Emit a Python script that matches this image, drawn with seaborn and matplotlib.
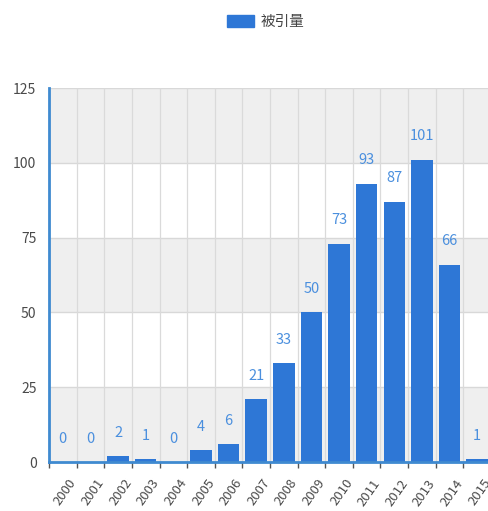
import matplotlib
matplotlib.use('Agg')
import matplotlib.pyplot as plt
import matplotlib.transforms as mtransforms
from matplotlib.patches import Patch
import seaborn as sns
import pandas as pd
import numpy as np

years = ['2000', '2001', '2002', '2003', '2004', '2005', '2006', '2007',
         '2008', '2009', '2010', '2011', '2012', '2013', '2014', '2015']
citations = [0, 0, 2, 1, 0, 4, 6, 21, 33, 50, 73, 93, 87, 101, 66, 1]
y_ticks = [0, 25, 50, 75, 100, 125]
series_name = '被引量'

bar_color = '#2e77d6'
label_color = '#4a8fde'
axis_color = '#3f8ad0'

sns.set_theme(style='white')
plt.rcParams['font.family'] = ['Noto Sans CJK SC', 'DejaVu Sans']

df = pd.DataFrame({'year': years, 'count': citations})

fig = plt.figure(figsize=(4.88, 5.11), dpi=100)
ax = fig.add_axes([49 / 488, 1 - 462 / 511, 442 / 488, (462 - 88) / 511])

# alternating horizontal bands + grid lines
for i in range(len(y_ticks) - 1):
    c = '#efefef' if i % 2 == 0 else 'white'
    ax.axhspan(y_ticks[i], y_ticks[i + 1], color=c, zorder=0, lw=0)
for t in y_ticks[1:]:
    ax.axhline(t, color='#d8d8d8', lw=1, zorder=0.5)
for b in np.arange(-0.5, len(years), 1.0):
    ax.axvline(b, color='#dadada', lw=0.9, zorder=0.5)

sns.barplot(data=df, x='year', y='count', color=bar_color, width=0.78,
            saturation=1, linewidth=0, ax=ax, zorder=2)

for i, v in enumerate(citations):
    ax.text(i, v + 5.5, str(v), ha='center', va='bottom', color=label_color,
            fontsize=10.5, zorder=3)

ax.set_xlim(-0.5, len(years) - 0.5)
ax.set_ylim(0, 125)
ax.set_yticks(y_ticks)
ax.set_yticklabels([str(t) for t in y_ticks], color='#4a4a4a', fontsize=10)
ax.tick_params(axis='y', length=0, pad=9)

ax.set_xticks(range(len(years)))
ax.set_xticklabels(years, rotation=55, ha='right', va='center',
                   rotation_mode='anchor', color='#4a4a4a', fontsize=9.5)
ax.tick_params(axis='x', length=0, pad=9)
offset = mtransforms.ScaledTranslation(11 / 100, -6 / 100, fig.dpi_scale_trans)
for lab in ax.get_xticklabels():
    lab.set_transform(lab.get_transform() + offset)
ax.set_xticks(np.arange(-0.5, len(years), 1.0), minor=True)
ax.tick_params(axis='x', which='minor', length=4, width=1, color='#555555',
               bottom=True, direction='out')

ax.set_xlabel('')
ax.set_ylabel('')
for s in ['top', 'right']:
    ax.spines[s].set_visible(False)
ax.spines['left'].set_color(axis_color)
ax.spines['left'].set_linewidth(2)
ax.spines['bottom'].set_color(axis_color)
ax.spines['bottom'].set_linewidth(2)
ax.spines['left'].set_zorder(4)
ax.spines['bottom'].set_zorder(4)

fig.legend(handles=[Patch(facecolor=bar_color, edgecolor=bar_color, label=series_name)],
           loc='center', bbox_to_anchor=(266 / 488, 1 - 22 / 511), frameon=False,
           fontsize=10.5, handlelength=1.8, handleheight=0.9, handletextpad=0.5,
           labelcolor='#444444')

fig.savefig('out.png', dpi=100)
